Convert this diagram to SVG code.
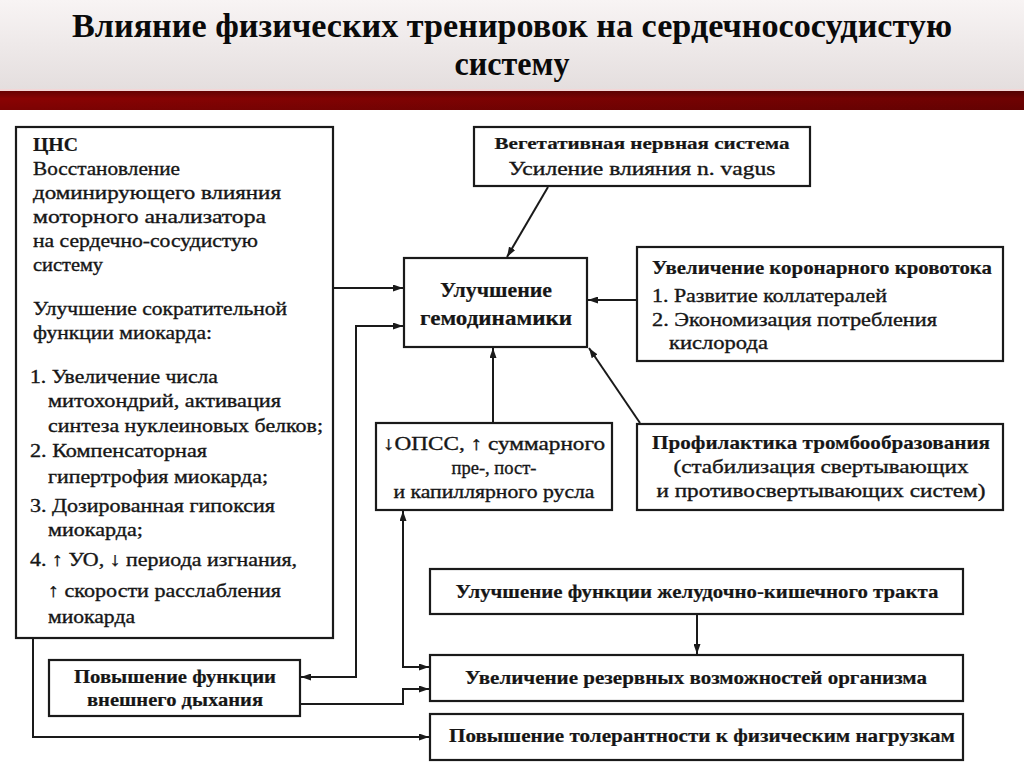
<svg xmlns="http://www.w3.org/2000/svg" width="1024" height="767" viewBox="0 0 1024 767">
<defs>
<linearGradient id="hdr" x1="0" y1="0" x2="0" y2="1">
<stop offset="0" stop-color="#f8f4f4"/>
<stop offset="1" stop-color="#e4dede"/>
</linearGradient>
<linearGradient id="band" x1="0" y1="0" x2="1" y2="0">
<stop offset="0" stop-color="#8a0303"/>
<stop offset="1" stop-color="#6e0202"/>
</linearGradient>
<linearGradient id="bandv" x1="0" y1="0" x2="0" y2="1">
<stop offset="0" stop-color="#000" stop-opacity="0.25"/>
<stop offset="0.4" stop-color="#000" stop-opacity="0"/>
<stop offset="1" stop-color="#000" stop-opacity="0.1"/>
</linearGradient>
<marker id="ah" viewBox="0 0 10 7" refX="10" refY="3.5" markerWidth="10" markerHeight="7" markerUnits="userSpaceOnUse" orient="auto-start-reverse">
<path d="M0,0 L10,3.5 L0,7 z" fill="#1a1a1a"/>
</marker>
</defs>
<style>
.box{fill:#fff;stroke:#1a1a1a;stroke-width:2.2}
text{font-family:"Liberation Serif",Tinos,"Noto Serif","DejaVu Serif",FreeSerif,"Nimbus Roman","Times New Roman",Times,serif}
.t{font-size:19px;fill:#161616;stroke:#161616;stroke-width:0.35}
.b{font-weight:bold;stroke-width:0.2}
.m{text-anchor:middle}
.title{font-size:34px;font-weight:bold;fill:#0a0a0a;text-anchor:middle}
.conn path,.conn line{fill:none;stroke:#1a1a1a;stroke-width:2}
</style>
<rect x="0" y="0" width="1024" height="767" fill="#fff"/>
<rect x="0" y="0" width="1024" height="90" fill="url(#hdr)"/>
<rect x="0" y="89" width="1024" height="2" fill="#f3d6d6"/>
<rect x="0" y="91" width="1024" height="19" fill="url(#band)"/>
<rect x="0" y="91" width="1024" height="19" fill="url(#bandv)"/>
<g id="title">
<text class="title" x="512" y="37" textLength="880" lengthAdjust="spacingAndGlyphs">Влияние физических тренировок на сердечнососудистую</text>
<text class="title" x="512" y="75" textLength="115" lengthAdjust="spacingAndGlyphs">систему</text>
</g>
<g id="cns">
<rect class="box" x="16" y="127" width="317" height="511"/>
<text class="t b" x="33" y="151" textLength="45" lengthAdjust="spacingAndGlyphs">ЦНС</text>
<text class="t" x="33" y="175" textLength="147" lengthAdjust="spacingAndGlyphs">Восстановление</text>
<text class="t" x="33" y="199" textLength="248" lengthAdjust="spacingAndGlyphs">доминирующего влияния</text>
<text class="t" x="33" y="223" textLength="233" lengthAdjust="spacingAndGlyphs">моторного анализатора</text>
<text class="t" x="33" y="247" textLength="225" lengthAdjust="spacingAndGlyphs">на сердечно-сосудистую</text>
<text class="t" x="33" y="271" textLength="70" lengthAdjust="spacingAndGlyphs">систему</text>
<text class="t" x="33" y="315" textLength="254" lengthAdjust="spacingAndGlyphs">Улучшение сократительной</text>
<text class="t" x="33" y="339" textLength="179" lengthAdjust="spacingAndGlyphs">функции миокарда:</text>
<text class="t" x="30" y="383" textLength="188" lengthAdjust="spacingAndGlyphs">1. Увеличение числа</text>
<text class="t" x="48" y="407" textLength="233" lengthAdjust="spacingAndGlyphs">митохондрий, активация</text>
<text class="t" x="48" y="432" textLength="275" lengthAdjust="spacingAndGlyphs">синтеза нуклеиновых белков;</text>
<text class="t" x="30" y="457" textLength="177" lengthAdjust="spacingAndGlyphs">2. Компенсаторная</text>
<text class="t" x="48" y="483" textLength="220" lengthAdjust="spacingAndGlyphs">гипертрофия миокарда;</text>
<text class="t" x="30" y="512" textLength="245" lengthAdjust="spacingAndGlyphs">3. Дозированная гипоксия</text>
<text class="t" x="48" y="536" textLength="95" lengthAdjust="spacingAndGlyphs">миокарда;</text>
<text class="t" x="30" y="566" textLength="267" lengthAdjust="spacingAndGlyphs">4. ↑ УО, ↓ периода изгнания,</text>
<text class="t" x="48" y="597" textLength="233" lengthAdjust="spacingAndGlyphs">↑ скорости расслабления</text>
<text class="t" x="48" y="623" textLength="87" lengthAdjust="spacingAndGlyphs">миокарда</text>
</g>
<g id="vegetative">
<rect class="box" x="474" y="127" width="336" height="59"/>
<text class="t b m" x="642" y="149" textLength="295" lengthAdjust="spacingAndGlyphs" style="font-size:17px">Вегетативная нервная система</text>
<text class="t m" x="642" y="175" textLength="267" lengthAdjust="spacingAndGlyphs">Усиление влияния n. vagus</text>
</g>
<g id="hemodynamics">
<rect class="box" x="404" y="258" width="183" height="89"/>
<text class="t b m" x="496" y="297" textLength="112" lengthAdjust="spacingAndGlyphs" style="font-size:20px">Улучшение</text>
<text class="t b m" x="496" y="325" textLength="152" lengthAdjust="spacingAndGlyphs" style="font-size:20px">гемодинамики</text>
</g>
<g id="coronary">
<rect class="box" x="637" y="247" width="366" height="114"/>
<text class="t b" x="652" y="274" textLength="340" lengthAdjust="spacingAndGlyphs">Увеличение коронарного кровотока</text>
<text class="t" x="652" y="302" textLength="235" lengthAdjust="spacingAndGlyphs">1. Развитие коллатералей</text>
<text class="t" x="652" y="326" textLength="285" lengthAdjust="spacingAndGlyphs">2. Экономизация потребления</text>
<text class="t" x="669" y="349" textLength="99" lengthAdjust="spacingAndGlyphs">кислорода</text>
</g>
<g id="opss">
<rect class="box" x="376" y="423" width="236" height="87"/>
<text class="t m" x="494" y="450" textLength="222" lengthAdjust="spacingAndGlyphs">↓ОПСС, ↑ суммарного</text>
<text class="t m" x="494" y="474" textLength="85" lengthAdjust="spacingAndGlyphs">пре-, пост-</text>
<text class="t m" x="494" y="498" textLength="201" lengthAdjust="spacingAndGlyphs">и капиллярного русла</text>
</g>
<g id="thrombo">
<rect class="box" x="637" y="424" width="366" height="86"/>
<text class="t b m" x="821" y="449" textLength="338" lengthAdjust="spacingAndGlyphs">Профилактика тромбообразования</text>
<text class="t m" x="821" y="473" textLength="295" lengthAdjust="spacingAndGlyphs">(стабилизация свертывающих</text>
<text class="t m" x="821" y="497" textLength="329" lengthAdjust="spacingAndGlyphs">и противосвертывающих систем)</text>
</g>
<g id="gi">
<rect class="box" x="430" y="569" width="533" height="45"/>
<text class="t b m" x="697" y="598" textLength="483" lengthAdjust="spacingAndGlyphs" style="font-size:18px">Улучшение функции желудочно-кишечного тракта</text>
</g>
<g id="reserve">
<rect class="box" x="430" y="655" width="533" height="46"/>
<text class="t b m" x="696" y="684" textLength="462" lengthAdjust="spacingAndGlyphs" style="font-size:18px">Увеличение резервных возможностей организма</text>
</g>
<g id="tolerance">
<rect class="box" x="430" y="714" width="533" height="46"/>
<text class="t b m" x="702" y="742" textLength="506" lengthAdjust="spacingAndGlyphs" style="font-size:18px">Повышение толерантности к физическим нагрузкам</text>
</g>
<g id="breathing">
<rect class="box" x="49" y="660" width="251" height="56"/>
<text class="t b m" x="175" y="683" textLength="202" lengthAdjust="spacingAndGlyphs" style="font-size:18px">Повышение функции</text>
<text class="t b m" x="175" y="706" textLength="176" lengthAdjust="spacingAndGlyphs" style="font-size:18px">внешнего дыхания</text>
</g>
<g class="conn" id="connectors">
<line x1="548" y1="187" x2="507" y2="257" marker-end="url(#ah)"/>
<path d="M334,288 H403" marker-end="url(#ah)"/>
<path d="M403,326 H356 V677 H301" marker-start="url(#ah)" marker-end="url(#ah)"/>
<path d="M403,511 V667 H429" marker-start="url(#ah)" marker-end="url(#ah)"/>
<path d="M301,704 H403 V689 H429" marker-end="url(#ah)"/>
<path d="M697,615 V654" marker-end="url(#ah)"/>
<path d="M493,422 V348" marker-end="url(#ah)"/>
<path d="M640,423 L589,348" marker-end="url(#ah)"/>
<path d="M636,300 H588" marker-end="url(#ah)"/>
<path d="M33,639 V737 H429" marker-end="url(#ah)"/>
</g>
</svg>
